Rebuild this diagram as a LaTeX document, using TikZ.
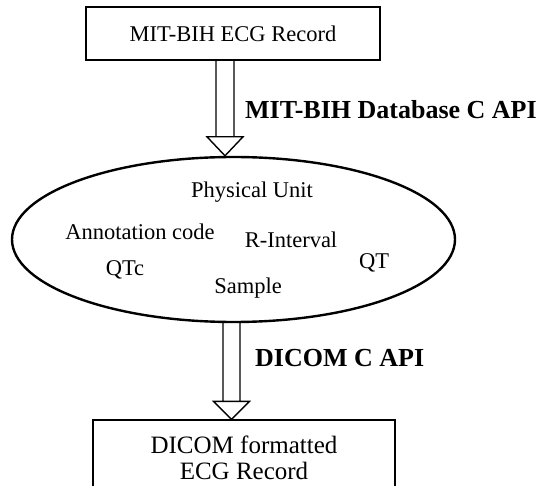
\documentclass[tikz,border=0pt]{standalone}
\usepackage{fontspec}
\setmainfont{Liberation Serif}
\usetikzlibrary{shapes.geometric,calc}
\begin{document}
\begin{tikzpicture}[x=1pt,y=-1pt,
  boxstyle/.style={draw,line width=1.4pt,inner sep=0pt,align=center,font=\fontsize{22.5}{27}\selectfont},
  ovalstyle/.style={draw,ellipse,line width=2.4pt,inner sep=0pt},
  itemtext/.style={inner sep=0pt,font=\fontsize{22.5}{27}\selectfont},
  apitext/.style={inner sep=0pt,anchor=west,font=\fontsize{26}{30}\bfseries\selectfont},
  hollow/.style={draw,line width=1.4pt}]
\useasboundingbox (0,0) rectangle (541,486);
\clip (0,0) rectangle (541,486);
\fill[white] (0,0) rectangle (541,486);

\node[boxstyle,minimum width=294pt,minimum height=53pt] (top) at (233,33.5) {MIT-BIH ECG Record};
\node[ovalstyle,minimum width=443pt,minimum height=165pt] (oval) at (233.5,239.5) {};
\node[boxstyle,minimum width=302pt,minimum height=76pt,font=\fontsize{25}{26.5}\selectfont] (bot) at (244,458) {DICOM formatted\\ECG Record};

\node[itemtext] (pu) at (252,192) {Physical Unit};
\node[itemtext] (ac) at (140,232) {Annotation code};
\node[itemtext] (ri) at (291,240) {R-Interval};
\node[itemtext] (qtc) at (125,270) {QTc};
\node[itemtext] (qt) at (374,263) {QT};
\node[itemtext] (sa) at (248,288) {Sample};

\node[apitext] (api1) at (245,110) {MIT-BIH Database C API};
\node[apitext] (api2) at (255,358) {DICOM C API};

\coordinate (x1) at (225,0);
\coordinate (x2) at (231.5,0);

\draw[hollow] let \p1=(top.south -| x1), \p2=(oval.north -| x1) in
  (\x1-9pt,\y1) -- (\x1-9pt,\y2+19pt)
  (\x1+9pt,\y1) -- (\x1+9pt,\y2+19pt)
  (\x1-18pt,\y2+19pt) -- (\x1+18pt,\y2+19pt) -- (\x1,\y2) -- cycle;
\draw[hollow] let \p1=(oval.south -| x2), \p2=(bot.north -| x2) in
  (\x1-8.5pt,\y1) -- (\x1-8.5pt,\y2+18pt)
  (\x1+8.5pt,\y1) -- (\x1+8.5pt,\y2+18pt)
  (\x1-18pt,\y2+18pt) -- (\x1+18pt,\y2+18pt) -- (\x1,\y2) -- cycle;
\end{tikzpicture}
\end{document}
